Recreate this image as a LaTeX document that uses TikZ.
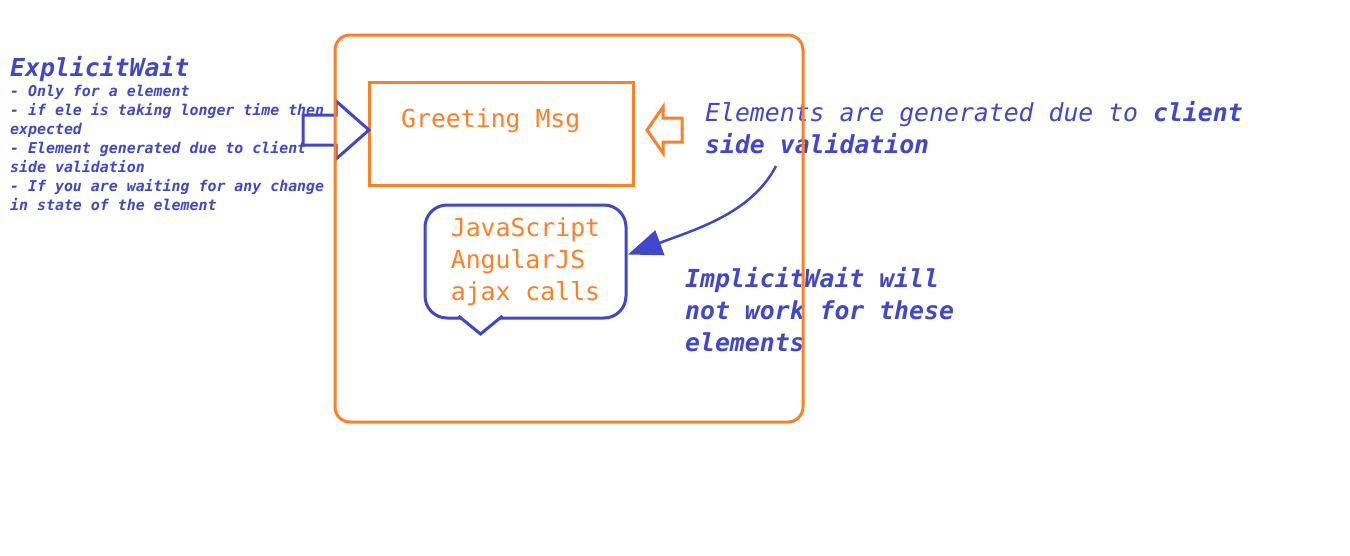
\documentclass[tikz,border=0pt]{standalone}
\usepackage{fontspec}
\setmonofont{DejaVu Sans Mono}
\usetikzlibrary{arrows.meta,positioning,calc}
\definecolor{paintorange}{RGB}{255,127,39}
\definecolor{paintblue}{RGB}{63,72,204}
\newcommand{\bigmono}{\fontsize{24.8}{32}\selectfont\ttfamily}
\newcommand{\smallmono}{\fontsize{14.9}{19}\selectfont\ttfamily}
\tikzset{
  frame/.style={draw=paintorange,line width=3pt,rounded corners=15pt,
                outer sep=0pt,inner sep=0pt},
  msgbox/.style={draw=paintorange,line width=3pt,outer sep=0pt,inner sep=0pt},
  bubble/.style={draw=paintblue,line width=3pt,rounded corners=22pt,outer sep=0pt,
                 inner sep=0pt,text=paintorange,font=\bigmono,align=left},
  tailline/.style={draw=paintblue,fill=white,line width=3pt,line join=miter},
  inarrow/.style={draw=paintblue,line width=3pt,line join=miter},
  outarrow/.style={draw=paintorange,line width=3pt,line join=miter},
  pointer/.style={-{Triangle[length=34pt,width=26pt]},draw=paintblue,line width=2.5pt},
  note/.style={text=paintblue,font=\bigmono\itshape,inner sep=0pt,align=left},
  smallnote/.style={text=paintblue,font=\smallmono\bfseries\itshape,inner sep=0pt,
                    align=left},
  msgtext/.style={text=paintorange,font=\bigmono,inner sep=0pt},
}

\begin{document}
\begin{tikzpicture}[x=1pt,y=-1pt]
  \fill[white] (0,0) rectangle (1350,555);
  \useasboundingbox (0,0) rectangle (1350,555);
  % left notes
  \node[note,font=\bigmono\bfseries\itshape,anchor=base west] (explicit) at (10,76)
    {ExplicitWait};
  \node[smallnote,below right=9pt and 0pt of explicit.base west] (explicitlist)
    {- Only for a element\\
     - if ele is taking longer time then\\
     expected\\
     - Element generated due to client\\
     side validation\\
     - If you are waiting for any change\\
     in state of the element};
  % boxes
  \node[msgbox,anchor=north west,minimum width=264pt,minimum height=103pt]
    (greet) at (369,82) {};
  \node[msgtext,anchor=base west] (greettext) at ($(greet.north west)+(32,45)$)
    {Greeting Msg};
  \node[bubble,anchor=north west,minimum width=201pt,minimum height=113pt]
    (bubble) at (425,205) {JavaScript\\AngularJS\\ajax calls};
  \draw[tailline] ($(bubble.south)+(-67,-2)$) -- ++(22,18) -- ++(22,-18);
  % block arrows
  \draw[inarrow] ($(greet.west)+(0,-3.5)$) -- ++(-33,-29) -- ++(0,14) -- ++(-33,0)
    -- ++(0,30) -- ++(33,0) -- ++(0,14) -- cycle;
  \draw[outarrow] ($(greet.east)+(14,-3.5)$) -- ++(16,-23) -- ++(0,11) -- ++(19,0)
    -- ++(0,24) -- ++(-19,0) -- ++(0,11) -- cycle;
  % right notes
  \node[note,anchor=north west] (clientnote) at (705,101)
    {Elements are generated due to \textbf{client}\\\textbf{side validation}};
  \node[note,font=\bigmono\bfseries\itshape,anchor=north west] (implicit) at (685,267)
    {ImplicitWait will\\not work for these\\elements};
  \coordinate (hook) at (776,166);
  \draw[pointer] (hook) .. controls (752,212) and (700,228) .. ($(bubble.east)+(2,-7)$);
  % outer frame on top
  \node[frame,anchor=north west,minimum width=468pt,minimum height=387pt]
    (page) at (335,35) {};
\end{tikzpicture}
\end{document}
